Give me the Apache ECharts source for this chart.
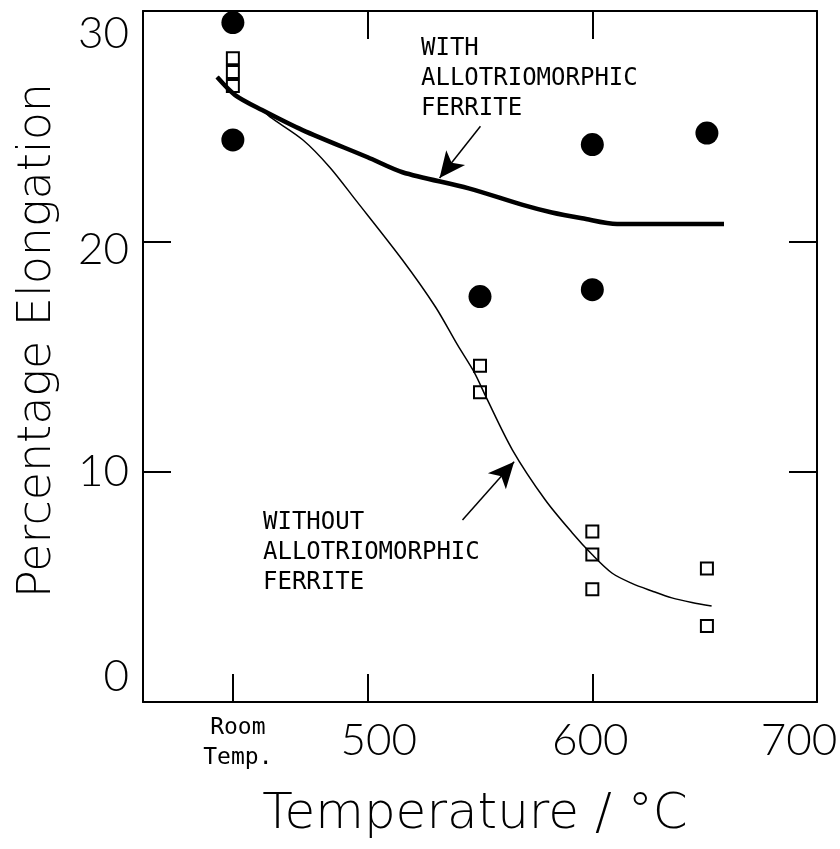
<!DOCTYPE html>
<html>
<head>
<meta charset="utf-8">
<title>Percentage Elongation vs Temperature</title>
<script src="https://cdn.jsdelivr.net/npm/echarts@6/dist/echarts.min.js"></script>
<style>
  html, body { margin: 0; padding: 0; background: #fff; }
  #chart { width: 840px; height: 849px; }
</style>
</head>
<body>
<div id="chart"></div>
<script>
// Room temperature is plotted at this position on the temperature axis
const roomTempPos = 440;

// Measured elongation, with allotriomorphic ferrite (filled circles)
const withT = [440, 440, 550, 600, 600, 651];
const withV = [29.5, 24.4, 17.6, 24.2, 17.9, 24.7];

// Measured elongation, without allotriomorphic ferrite (open squares)
const withoutT = [440, 440, 440, 550, 550, 600, 600, 600, 651, 651];
const withoutV = [27.95, 27.35, 26.74, 14.6, 13.45, 7.4, 6.4, 4.9, 5.8, 3.3];

// Trend curve, with allotriomorphic ferrite (thick)
const withCurveT = [433, 441, 453, 471, 500, 515.5, 545, 569, 582, 595.4, 611, 658.6];
const withCurveV = [27.13, 26.35, 25.7, 24.83, 23.65, 23.0, 22.3, 21.58, 21.25, 21.0, 20.75, 20.75];

// Trend curve, without allotriomorphic ferrite (thin)
const withoutCurveT = [433, 441, 453, 456.5, 471.2, 483.1, 494.7, 515.5, 530.2, 540, 547.5, 552.4, 564.4, 579, 591, 599.9, 608.7, 617.6, 626.5, 635.4, 644.3, 653.1];
const withoutCurveV = [27.13, 26.35, 25.7, 25.4, 24.4, 23.22, 21.79, 19.19, 17.15, 15.5, 14.3, 13.3, 10.95, 8.78, 7.35, 6.4, 5.6, 5.15, 4.82, 4.52, 4.32, 4.17];

// Axis ticks and labels
const xLabelValues = [440, 500, 600, 700];
const xTickValues = [440, 500, 600];
const yLabelValues = [0, 10, 20, 30];
const yTickValues = [10, 20];

// Annotation arrows: [tail, head] in data units
const arrowWith = [[550.2, 25.0], [532, 22.75]];
const arrowWithout = [[542.2, 7.9], [565.2, 10.43]];

const annotWith = 'WITH\nALLOTRIOMORPHIC\nFERRITE';
const annotWithout = 'WITHOUT\nALLOTRIOMORPHIC\nFERRITE';

const pair = (xs, ys) => xs.map((x, i) => [x, ys[i]]);

const tickFont = 'Lato, "Liberation Sans", sans-serif';
const titleFont = '"DejaVu Sans", sans-serif';
const smallFont = '"DejaVu Sans Mono", monospace';

const chart = echarts.init(document.getElementById('chart'));

const frameLine = { show: true, onZero: false, lineStyle: { color: '#000', width: 2 } };
const inTick = (vals) => ({ show: true, inside: true, length: 28, customValues: vals, lineStyle: { color: '#000', width: 2 } });

const arrowLine = (a) => ({
  silent: true,
  symbol: ['none', 'arrow'],
  symbolSize: [18, 26],
  label: { show: false },
  lineStyle: { color: '#000', width: 1.5, type: 'solid' },
  emphasis: { disabled: true },
  data: [[{ coord: a[0] }, { coord: a[1] }]]
});

const tickText = { fontFamily: tickFont, fontWeight: 300, fontSize: 44, lineHeight: 44, color: '#000' };

chart.setOption({
  backgroundColor: '#fff',
  animation: false,
  grid: { left: 143, top: 11, right: 23, bottom: 147, containLabel: false, outerBoundsMode: 'none' },
  xAxis: [
    {
      type: 'value', min: 400, max: 700,
      axisLine: frameLine,
      splitLine: { show: false },
      axisTick: inTick(xTickValues),
      name: 'Temperature / °C',
      nameLocation: 'middle',
      nameGap: 88,
      nameTextStyle: { fontFamily: titleFont, fontWeight: 200, fontSize: 50, color: '#000', padding: [0, 10, 0, 0] },
      axisLabel: {
        customValues: xLabelValues,
        margin: 10,
        color: '#000',
        formatter: (v) => {
          if (v === roomTempPos) return '{r|Room}\n{r|Temp.}';
          if (v === 500) return '{n5|500}';
          if (v === 700) return '{n7|700}';
          return '{n|' + v + '}';
        },
        rich: {
          r: { fontFamily: smallFont, fontSize: 23, lineHeight: 30, color: '#000', padding: [3, 0, 0, 10] },
          n: Object.assign({}, tickText, { padding: [14, 4, 0, 0] }),
          n5: Object.assign({}, tickText, { padding: [14, 0, 0, 22] }),
          n7: Object.assign({}, tickText, { padding: [14, 36, 0, 0] })
        }
      }
    },
    {
      type: 'value', min: 400, max: 700, position: 'top',
      axisLine: frameLine,
      splitLine: { show: false },
      axisTick: inTick([500, 600]),
      axisLabel: { show: false }
    }
  ],
  yAxis: [
    {
      type: 'value', min: 0, max: 30,
      axisLine: frameLine,
      splitLine: { show: false },
      axisTick: inTick(yTickValues),
      name: 'Percentage Elongation',
      nameLocation: 'middle',
      nameGap: 82,
      nameTextStyle: { fontFamily: titleFont, fontWeight: 200, fontSize: 46, color: '#000', padding: [0, 0, 0, 32] },
      axisLabel: {
        customValues: yLabelValues,
        margin: 14,
        color: '#000',
        formatter: (v) => '{y' + v + '|' + v + '}',
        rich: {
          y0: Object.assign({}, tickText, { padding: [0, 0, 50, 0] }),
          y10: Object.assign({}, tickText, { padding: [0, 0, 0, 0] }),
          y20: Object.assign({}, tickText, { padding: [16, 0, 0, 0] }),
          y30: Object.assign({}, tickText, { padding: [46, 0, 0, 0] })
        }
      }
    },
    {
      type: 'value', min: 0, max: 30, position: 'right',
      axisLine: frameLine,
      splitLine: { show: false },
      axisTick: inTick(yTickValues),
      axisLabel: { show: false }
    }
  ],
  series: [
    {
      name: 'with curve', type: 'line', data: pair(withCurveT, withCurveV),
      showSymbol: false, smooth: 0.3, silent: true,
      lineStyle: { color: '#000', width: 4.5 },
      markLine: arrowLine(arrowWith)
    },
    {
      name: 'without curve', type: 'line', data: pair(withoutCurveT, withoutCurveV),
      showSymbol: false, smooth: 0.3, silent: true,
      lineStyle: { color: '#000', width: 1.5 },
      markLine: arrowLine(arrowWithout)
    },
    {
      name: 'with ferrite', type: 'scatter', data: pair(withT, withV),
      symbol: 'circle', symbolSize: 23, silent: true,
      itemStyle: { color: '#000', opacity: 1 }
    },
    {
      name: 'without ferrite', type: 'scatter', data: pair(withoutT, withoutV),
      symbol: 'rect', symbolSize: 12, silent: true,
      itemStyle: { color: 'rgba(0,0,0,0)', borderColor: '#000', borderWidth: 2, opacity: 1 }
    }
  ],
  graphic: [
    {
      type: 'text', left: 421, top: 34, silent: true,
      style: { text: annotWith, font: '24px ' + smallFont, lineHeight: 30, fill: '#000' }
    },
    {
      type: 'text', left: 263, top: 508, silent: true,
      style: { text: annotWithout, font: '24px ' + smallFont, lineHeight: 30, fill: '#000' }
    }
  ]
});
</script>
</body>
</html>
